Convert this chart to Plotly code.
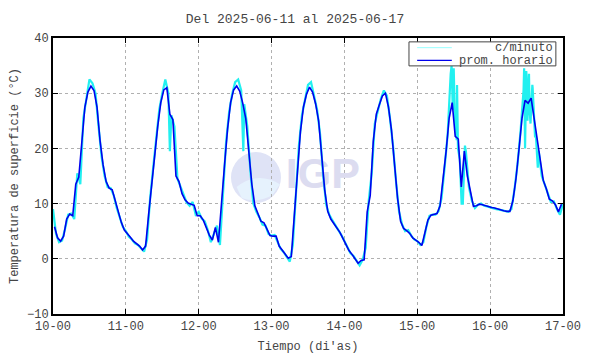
import pandas as pd
import plotly.graph_objects as go

# ---- data ----
start = pd.Timestamp("2025-06-10 00:00")
day_ticks = ["10-00", "11-00", "12-00", "13-00", "14-00", "15-00", "16-00", "17-00"]
series_names = ["c/minuto", "prom. horario"]

# hourly means (plotted at hh:30), one list per day
h10 = [5.8, 3.8, 3.2, 4.1, 7.2, 8.1, 7.8, 13.5, 14.8, 22.0, 27.5, 30.2,
       31.3, 30.5, 27.5, 21.4, 17.0, 14.0, 12.8, 12.5, 10.5, 8.3, 6.6, 5.2]
h11 = [4.6, 3.9, 3.2, 2.7, 2.3, 1.6, 2.3, 8.0, 13.5, 18.5, 24.0, 28.3,
       30.6, 31.0, 26.2, 25.2, 15.0, 14.0, 11.8, 10.7, 10.1, 9.9, 9.7, 7.8]
h12 = [7.8, 7.0, 5.7, 4.3, 3.4, 5.7, 3.0, 9.3, 17.0, 23.5, 28.3, 30.6,
       31.3, 30.4, 28.2, 25.4, 19.8, 13.5, 9.6, 8.0, 6.8, 6.5, 5.3, 4.2]
h13 = [4.1, 4.1, 2.3, 1.6, 0.8, 0.1, 0.4, 7.3, 15.5, 23.0, 27.5, 29.8,
       31.1, 30.2, 28.1, 25.0, 19.0, 12.5, 8.6, 7.2, 6.4, 5.6, 4.8, 3.7]
h14 = [2.6, 1.5, 0.8, 0.1, -0.8, -0.3, -0.2, 8.5, 11.5, 21.3, 26.2, 27.9,
       29.5, 30.0, 27.5, 23.3, 17.5, 11.0, 6.8, 5.5, 5.1, 4.6, 3.8, 3.4]
h15 = [3.0, 2.4, 4.5, 7.0, 7.9, 8.0, 8.2, 9.6, 14.2, 19.5, 25.5, 28.3,
       22.2, 21.7, 13.0, 19.5, 15.0, 12.0, 9.5, 9.6, 9.9, 9.8, 9.6, 9.4]
h16 = [9.3, 9.2, 9.0, 8.9, 8.7, 8.6, 8.6, 10.5, 14.5, 19.8, 25.5, 28.7,
       28.2, 29.1, 25.5, 21.0, 17.5, 14.2, 12.7, 10.8, 10.5, 9.8, 8.5, 9.9]
prom_horario = h10 + h11 + h12 + h13 + h14 + h15 + h16

m10 = [9.0, 4.5, 3.0, 3.3, 5.5, 8.0, 8.2, 7.2, 15.5, 13.5, 25.5, 29.0,
       32.5, 31.8, 30.0, 24.0, 18.5, 15.0, 13.0, 12.8, 11.5, 9.2, 7.5, 5.8]
m11 = [5.0, 4.0, 3.5, 2.8, 2.5, 1.8, 1.3, 3.5, 11.0, 16.5, 21.5, 27.0,
       30.0, 32.5, 30.0, 26.0, 24.0, 14.5, 13.0, 11.5, 10.2, 9.6, 10.3, 8.0]
m12 = [8.5, 7.3, 6.8, 5.2, 3.0, 4.5, 6.0, 2.5, 13.0, 21.0, 26.5, 29.8,
       32.0, 32.5, 30.5, 28.0, 24.0, 16.0, 10.0, 8.5, 7.5, 6.2, 6.0, 4.5]
m13 = [4.2, 4.3, 3.0, 1.8, 1.2, 0.3, -0.5, 2.5, 12.0, 20.5, 26.0, 29.0,
       31.5, 32.0, 29.5, 27.0, 22.5, 15.0, 9.8, 8.0, 7.0, 6.2, 5.2, 4.3]
m14 = [3.2, 2.0, 1.0, 0.5, -0.3, -1.2, -0.2, 2.0, 10.5, 15.5, 24.5, 27.0,
       29.0, 30.5, 29.5, 25.5, 20.5, 14.0, 8.5, 6.2, 5.0, 5.2, 4.2, 3.5]
m15 = [3.2, 2.5, 3.0, 5.8, 7.8, 8.0, 8.0, 8.6, 11.0, 16.5, 22.5, 33.5,
       28.0, 21.5, 18.0, 10.0, 19.5, 13.0, 10.5, 9.2, 9.8, 10.0, 9.6, 9.5]
m16 = [9.3, 9.1, 9.0, 8.9, 8.8, 8.6, 8.5, 9.0, 12.5, 17.0, 23.0, 30.5,
       33.0, 27.0, 31.0, 23.0, 19.5, 15.0, 13.5, 12.0, 10.3, 10.4, 9.0, 8.0, 10.0]
c_minuto = m10 + m11 + m12 + m13 + m14 + m15 + m16

# extra short-lived excursions in the per-minute record (hours from start, degC)
spike_hours = [38.5, 62.7, 131.3, 131.7, 132.0, 132.4, 133.1, 133.4, 134.6, 135.7,
               155.2, 155.5, 155.9, 156.3, 156.8, 157.3, 157.9, 158.8, 159.7]
spike_vals = [19.5, 19.5, 35.0, 27.0, 34.5, 25.0, 31.5, 20.0, 10.0, 20.5,
              34.5, 20.0, 34.0, 25.0, 33.5, 24.5, 31.5, 22.0, 16.5]

# ---- build series ----
hour_t = [start + pd.Timedelta(hours=i + 0.5) for i in range(len(prom_horario))]
pairs = [(float(i), v) for i, v in enumerate(c_minuto)] + list(zip(spike_hours, spike_vals))
pairs.sort(key=lambda p: p[0])
min_t = [start + pd.Timedelta(hours=p[0]) for p in pairs]
min_v = [p[1] for p in pairs]

FONT = "Liberation Mono, Courier New, monospace"
CYAN = "#22f0f0"
BLUE = "#0000ee"
TXT = "#454545"

fig = go.Figure()
# watermark text drawn first so the data lines pass over it
fig.add_trace(go.Scatter(x=[start + pd.Timedelta(hours=88.9)], y=[14.8], mode="text",
                         text=["<b>IGP</b>"], textposition="middle center",
                         textfont=dict(family="Liberation Sans, Arial", size=43, color="#dcdcf0"),
                         showlegend=False, hoverinfo="skip"))
fig.add_trace(go.Scatter(x=min_t, y=min_v, mode="lines", name=series_names[0],
                         showlegend=False, line=dict(color=CYAN, width=2.2)))
fig.add_trace(go.Scatter(x=hour_t, y=prom_horario, mode="lines", name=series_names[1],
                         showlegend=False, line=dict(color=BLUE, width=1.6)))

tickvals = [start + pd.Timedelta(days=i) for i in range(len(day_ticks))]

# hand-built legend box (paper coordinates)
legend_shapes = [
    dict(type="rect", xref="paper", yref="paper", layer="above",
         x0=0.698, x1=0.986, y0=0.899, y1=0.986,
         fillcolor="white", line=dict(color="#444", width=1)),
    dict(type="line", xref="paper", yref="paper", layer="above",
         x0=0.714, x1=0.782, y0=0.965, y1=0.965, line=dict(color="#99ffff", width=1)),
    dict(type="line", xref="paper", yref="paper", layer="above",
         x0=0.714, x1=0.782, y0=0.919, y1=0.919, line=dict(color=BLUE, width=1.4)),
]
legend_texts = [
    dict(text=series_names[0], xref="paper", yref="paper", x=0.984, y=0.963,
         xanchor="right", yanchor="middle", showarrow=False,
         font=dict(family=FONT, size=12, color=TXT)),
    dict(text=series_names[1], xref="paper", yref="paper", x=0.984, y=0.917,
         xanchor="right", yanchor="middle", showarrow=False,
         font=dict(family=FONT, size=12, color=TXT)),
]

watermark = [
    dict(type="circle", xref="paper", yref="paper", layer="below",
         x0=0.349, x1=0.447, y0=0.402, y1=0.587,
         fillcolor="#dfe3f6", line=dict(width=0)),
    dict(type="path", xref="paper", yref="paper", layer="below",
         path="M 0.36,0.46 Q 0.40,0.52 0.445,0.47 L 0.43,0.43 Q 0.40,0.40 0.37,0.42 Z",
         fillcolor="#e6f2fd", line=dict(width=0)),
]

fig.update_layout(
    width=590, height=354,
    margin=dict(l=53, r=27, t=38, b=40, autoexpand=False),
    paper_bgcolor="white", plot_bgcolor="white",
    font=dict(family=FONT, size=12, color=TXT),
    title=dict(text="Del 2025-06-11 al 2025-06-17", x=0.5, xanchor="center",
               y=0.948, yanchor="middle", font=dict(family=FONT, size=13, color=TXT)),
    showlegend=False,
    shapes=watermark + legend_shapes,
    annotations=legend_texts,
)
fig.update_xaxes(
    range=[start, start + pd.Timedelta(days=7)], automargin=False,
    tickvals=tickvals, ticktext=day_ticks,
    showline=True, mirror="ticks", linecolor="black", linewidth=2,
    ticks="inside", ticklen=5, tickcolor="black", tickwidth=1,
    showgrid=True, gridcolor="#b0b0b0", griddash="dot", gridwidth=1,
    title=dict(text="Tiempo (di'as)", font=dict(family=FONT, size=12, color=TXT), standoff=8),
    tickfont=dict(family=FONT, size=12, color=TXT), zeroline=False,
)
fig.update_yaxes(
    range=[-10, 40], dtick=10, tick0=0, automargin=False,
    showline=True, mirror="ticks", linecolor="black", linewidth=2,
    ticks="inside", ticklen=5, tickcolor="black", tickwidth=1,
    showgrid=True, gridcolor="#b0b0b0", griddash="dot", gridwidth=1,
    title=dict(text="Temperatura de superficie (°C)", font=dict(family=FONT, size=12, color=TXT), standoff=6),
    tickfont=dict(family=FONT, size=12, color=TXT), zeroline=False,
)

fig.write_html("out.html")
